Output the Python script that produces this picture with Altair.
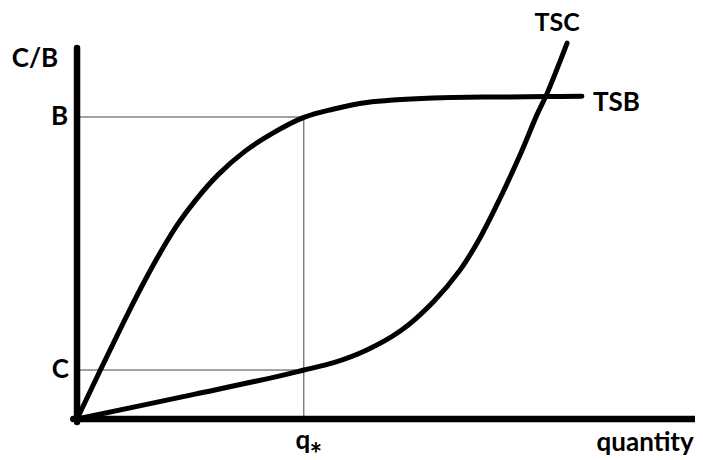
import altair as alt
import pandas as pd

# Data (abstract units: quantity 0-100, C/B 0-100)
tsb_x = [0, 3.72, 8.25, 11.0, 13.6, 16.3, 19.1, 22.8, 27.2, 31.4, 36.7, 41.4, 46.9, 57.6, 68.4, 76.1, 81.7]
tsb_y = [0, 13.0, 28.5, 37.4, 45.2, 52.5, 58.8, 65.8, 72.2, 76.8, 81.3, 83.5, 85.3, 86.5, 86.8, 86.9, 87.0]
tsc_x = [0, 19.1, 32.5, 36.7, 41.4, 46.9, 52.3, 57.6, 62.0, 65.2, 68.4, 71.7, 74.4, 76.1, 79.3]
tsc_y = [0, 6.7, 11.5, 13.2, 15.1, 18.6, 23.7, 31.5, 40.2, 48.8, 59.3, 71.2, 81.9, 87.9, 101.3]

q_star = 36.7
B_val = 81.4
C_val = 13.2

label_text = ["C/B", "B", "C", "q", "*", "TSC", "TSB", "quantity"]
label_x = [-6.8, 0, 0, q_star, q_star, 77.7, 83.5, 99.8]
label_y = [97.0, B_val, C_val, -6.0, -10.0, 106.7, 85.2, -6.4]
label_dx = [0, -9, -8, -1, 12, 0, 0, 0]
label_size = [26, 26, 26, 26, 30, 25, 26, 26]
label_align = ["center", "right", "right", "center", "center", "center", "left", "right"]

XD = [-11.17, 100]
YD = [-11.05, 109.16]
xs = alt.Scale(domain=XD, nice=False, zero=False)
ys = alt.Scale(domain=YD, nice=False, zero=False)

curves = pd.DataFrame(
    [{"series": "TSB", "q": a, "v": b, "o": i} for i, (a, b) in enumerate(zip(tsb_x, tsb_y))]
    + [{"series": "TSC", "q": a, "v": b, "o": i} for i, (a, b) in enumerate(zip(tsc_x, tsc_y))]
)

axes_df = pd.DataFrame([
    {"x": 0, "y": -0.8, "x2": 0, "y2": 100},
    {"x": -0.6, "y": 0, "x2": 100, "y2": 0},
])
guides_df = pd.DataFrame([
    {"x": 0, "y": B_val, "x2": q_star, "y2": B_val},
    {"x": q_star, "y": B_val, "x2": q_star, "y2": 0},
    {"x": 0, "y": C_val, "x2": q_star, "y2": C_val},
])

axes = alt.Chart(axes_df).mark_rule(color="black", strokeWidth=6.5, strokeCap="round").encode(
    x=alt.X("x:Q", scale=xs, axis=None), y=alt.Y("y:Q", scale=ys, axis=None),
    x2="x2:Q", y2="y2:Q")

guides = alt.Chart(guides_df).mark_rule(color="#444444", strokeWidth=1).encode(
    x=alt.X("x:Q", scale=xs, axis=None), y=alt.Y("y:Q", scale=ys, axis=None),
    x2="x2:Q", y2="y2:Q")

lines = alt.Chart(curves).mark_line(color="black", strokeWidth=5, strokeCap="round",
                                     interpolate="catmull-rom").encode(
    x=alt.X("q:Q", scale=xs, axis=None), y=alt.Y("v:Q", scale=ys, axis=None),
    detail="series:N", order="o:Q")

text_layers = []
for t, x, y, dx, sz, al in zip(label_text, label_x, label_y, label_dx, label_size, label_align):
    text_layers.append(
        alt.Chart(pd.DataFrame([{"t": t, "x": x, "y": y}])).mark_text(
            font="Lato", fontWeight="bold", fontSize=sz, color="black",
            align=al, baseline="middle", dx=dx).encode(
            x=alt.X("x:Q", scale=xs, axis=None), y=alt.Y("y:Q", scale=ys, axis=None),
            text="t:N"))

chart = alt.layer(guides, axes, lines, *text_layers).properties(
    width=687, height=446, autosize=alt.AutoSizeParams(type="none"),
    padding={"top": 6, "left": 0, "right": 0, "bottom": 0}
).configure_view(stroke=None)

chart.save("out.html", embed_options={"renderer": "svg", "actions": False})
